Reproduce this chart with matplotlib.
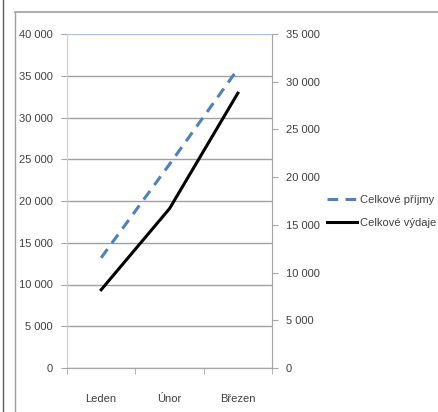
import matplotlib.pyplot as plt
from matplotlib.lines import Line2D
from matplotlib.ticker import FuncFormatter, MultipleLocator

# Data
months = ['Leden', 'Únor', 'Březen']
prijmy = [13200, 24400, 35800]   # left axis
vydaje = [8200, 16700, 28800]    # right axis

plt.rcParams['font.family'] = ['Liberation Sans', 'DejaVu Sans']

W, H = 438, 412
fig = plt.figure(figsize=(W / 100, H / 100), dpi=100)
fig.patch.set_facecolor('white')

ax = fig.add_axes([67 / W, 1 - 368 / H, (272 - 67) / W, (368 - 34) / H])
ax2 = ax.twinx()

x = list(range(len(months)))
l1, = ax.plot(x, prijmy, color='#4f81bd', lw=2.2, dashes=(3.5, 2.4), label='Celkové příjmy')
l2, = ax2.plot(x, vydaje, color='black', lw=2.2, label='Celkové výdaje')

fmt = FuncFormatter(lambda v, p: f'{int(v):,}'.replace(',', ' '))

ax.set_xlim(-0.5, 2.5)
ax.set_ylim(0, 40000)
ax.yaxis.set_major_locator(MultipleLocator(5000))
ax.yaxis.set_major_formatter(fmt)
ax2.set_ylim(0, 35000)
ax2.yaxis.set_major_locator(MultipleLocator(5000))
ax2.yaxis.set_major_formatter(fmt)

# gridlines
for v in range(0, 40001, 5000):
    ax.axhline(v, color='#a8c4e4' if v == 40000 else '#a0a0a0', lw=1, zorder=0)

ax.set_xticks(x)
ax.set_xticklabels(months)
ax.set_xticks([-0.5, 0.5, 1.5, 2.5], minor=True)
ax.tick_params(axis='x', which='major', length=0, pad=19, labelsize=8, colors='#404040')
ax.tick_params(axis='x', which='minor', length=4, color='#a6a6a6')
ax.tick_params(axis='y', length=4, color='#a6a6a6', labelsize=8, labelcolor='#404040', pad=6)
ax2.tick_params(axis='y', length=4, color='#a6a6a6', labelsize=8, labelcolor='#404040', pad=6)

for a in (ax, ax2):
    a.spines['top'].set_visible(False)
    a.spines['left'].set_color('#d0d0d0')
    a.spines['right'].set_color('#a6a6a6')
    a.spines['bottom'].set_color('#a6a6a6')

fig.legend(handles=[l1, l2], loc='upper left', bbox_to_anchor=(327 / W, 1 - 195 / H),
           frameon=False, fontsize=8, handlelength=2.7, handletextpad=0.3,
           labelspacing=1.15, borderpad=0, borderaxespad=0, labelcolor='#404040')

# outer frame
fig.add_artist(Line2D([15 / W, 15 / W], [0, 1 - 12 / H], color='#a0a0a0', lw=1))
fig.add_artist(Line2D([15 / W, 1], [1 - 12 / H, 1 - 12 / H], color='#a0a0a0', lw=1.2))
fig.add_artist(Line2D([3 / W, 3 / W], [0, 1], color='#606060', lw=1))

fig.savefig('out.png', dpi=100)
